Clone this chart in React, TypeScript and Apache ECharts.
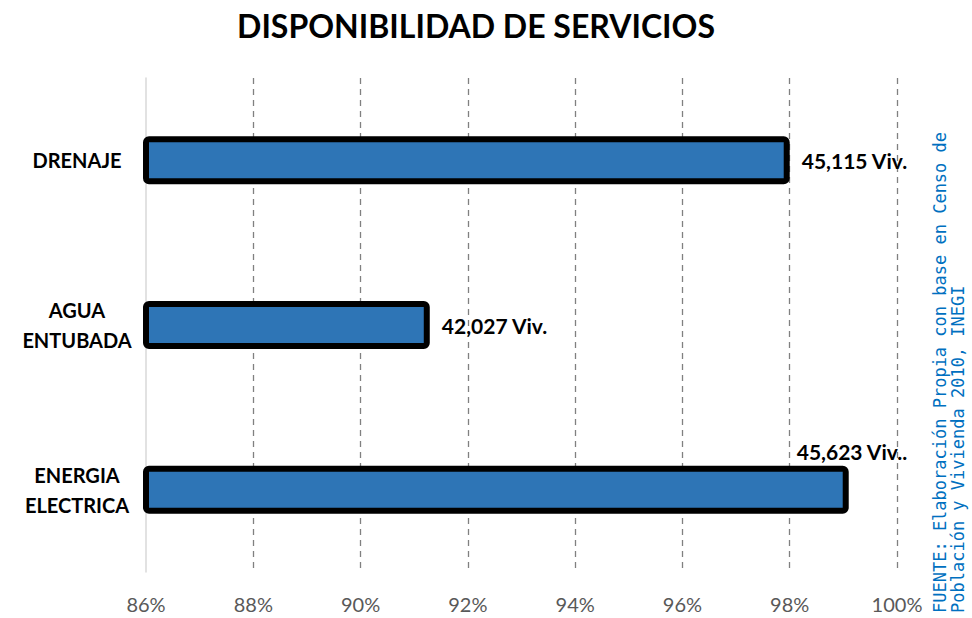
import React, { useEffect, useRef } from "react";
import * as echarts from "echarts";

const TITLE = "DISPONIBILIDAD DE SERVICIOS";
const categories = ["DRENAJE", "AGUA\nENTUBADA", "ENERGIA\nELECTRICA"];
const percentValues = [98.0, 91.29, 99.1];
const valueLabels = ["45,115 Viv.", "42,027 Viv.", "45,623 Viv.."];
const axisMin = 86;
const axisMax = 100;
const axisStep = 2;
const sourceLines = [
  "FUENTE: Elaboración Propia con base en Censo de",
  "Población y Vivienda 2010, INEGI",
];

const FONT = "Lato, 'Open Sans', sans-serif";

export default function App() {
  const ref = useRef<HTMLDivElement>(null);
  useEffect(() => {
    if (!ref.current) return;
    const chart = echarts.init(ref.current, null, { renderer: "svg" });
    chart.setOption({
      animation: false,
      backgroundColor: "#ffffff",
      title: {
        text: TITLE,
        left: 471,
        textAlign: "center",
        top: 4,
        textStyle: { fontFamily: FONT, fontSize: 32, fontWeight: "bold", color: "#000" },
      },
      grid: { left: 146, right: 75, top: 78, bottom: 46, containLabel: false },
      xAxis: {
        type: "value",
        min: axisMin,
        max: axisMax,
        interval: axisStep,
        axisLine: { show: false },
        axisTick: { show: false },
        axisLabel: {
          formatter: (v: number) => `${v}%`,
          color: "#595959",
          fontFamily: FONT,
          fontSize: 20,
          margin: 22,
        },
        splitLine: {
          show: true,
          showMinLine: false,
          lineStyle: { color: "#808080", type: [6, 5], width: 1.3 },
        },
      },
      yAxis: {
        type: "category",
        inverse: true,
        data: categories,
        axisLine: { show: true, lineStyle: { color: "#d9d9d9", width: 1.5 } },
        axisTick: { show: false },
        axisLabel: {
          color: "#000",
          fontFamily: FONT,
          fontSize: 20,
          fontWeight: "bold",
          align: "center",
          margin: 69,
          lineHeight: 30,
        },
      },
      series: [
        {
          type: "bar",
          data: percentValues.map((v) => ({ value: v })),
          barWidth: 48,
          itemStyle: {
            color: "#2E75B6",
            borderColor: "#000",
            borderWidth: 6,
            borderRadius: 3,
          },
          label: {
            show: true,
            position: "right",
            distance: 12,
            formatter: (p: any) => valueLabels[p.dataIndex],
            color: "#000",
            fontFamily: FONT,
            fontSize: 21,
            fontWeight: "bold",
          },
          labelLayout: (params: any) => {
            if (params.dataIndex === 2) {
              return { dx: -64, dy: -38 };
            }
            return {};
          },
        },
      ],
      graphic: [
        {
          type: "text",
          x: 931,
          y: 613,
          rotation: Math.PI / 2,
          style: {
            text: sourceLines.join("\n"),
            fontFamily: "'DejaVu Sans Mono', monospace",
            fontSize: 17,
            lineHeight: 18,
            fill: "#0070C0",
            align: "left",
            verticalAlign: "top",
          },
        },
      ],
    });
    return () => chart.dispose();
  }, []);
  return (
    <div
      ref={ref}
      style={{ position: "fixed", left: 0, top: 0, width: 972, height: 618 }}
    />
  );
}
